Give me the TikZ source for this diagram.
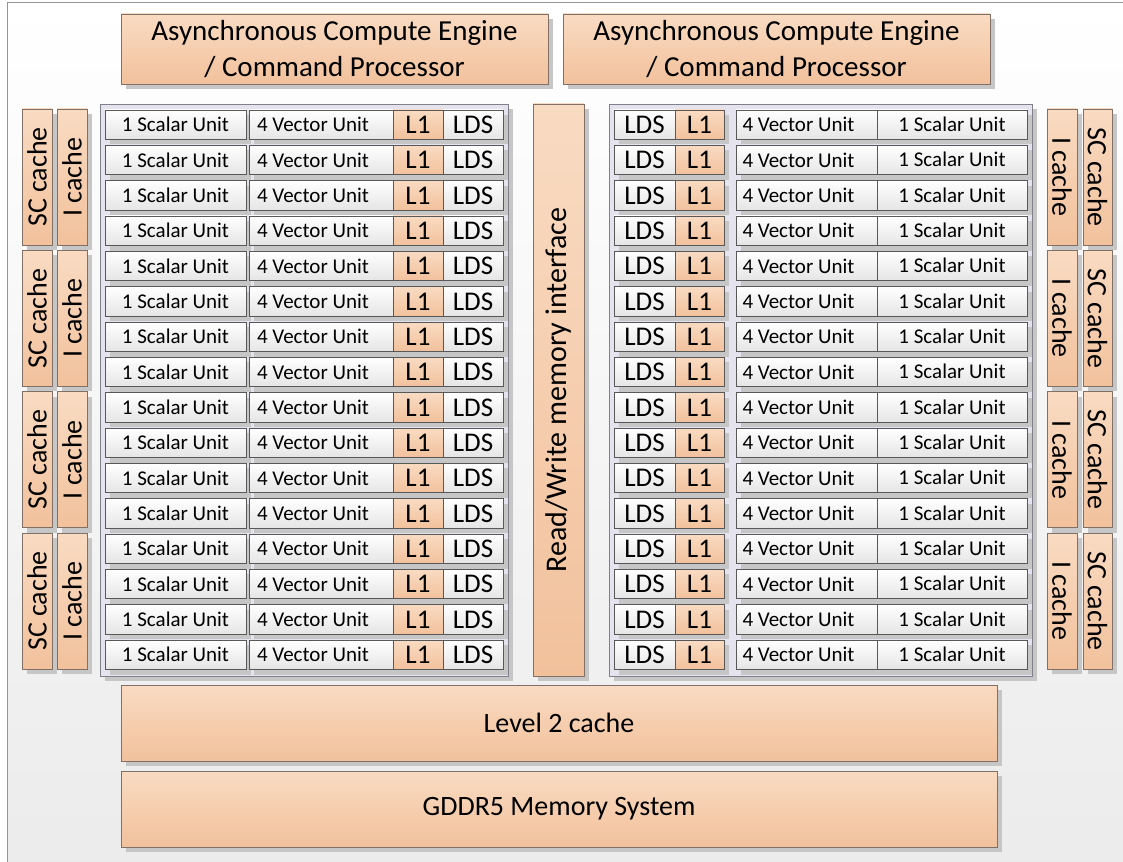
\documentclass[tikz,border=0pt]{standalone}
\usepackage{fontspec}
\setmainfont{Carlito}
\definecolor{orgtop}{RGB}{249,219,194}
\definecolor{orgbot}{RGB}{242,193,156}
\definecolor{orgline}{RGB}{128,112,102}
\definecolor{unitline}{RGB}{88,88,88}
\definecolor{unitbot}{RGB}{229,229,229}
\definecolor{shadowfill}{RGB}{198,198,198}
\definecolor{panelfill}{RGB}{229,227,238}
\definecolor{panelline}{RGB}{128,128,138}
\definecolor{bgbot}{RGB}{235,235,235}
\definecolor{frameline}{RGB}{150,150,150}
\tikzset{
  orangebox/.style={draw=orgline, top color=orgtop, bottom color=orgbot, line width=0.9pt, inner sep=0pt},
  unitbox/.style={draw=unitline, top color=white, bottom color=unitbot, line width=0.9pt, inner sep=0pt},
  l1box/.style={draw=unitline, top color=orgtop, bottom color=orgbot, line width=0.9pt, inner sep=0pt},
  panelbox/.style={draw=panelline, fill=panelfill, line width=0.9pt},
  bigtxt/.style={font=\fontsize{28}{36}\selectfont, align=center},
  acetxt/.style={font=\fontsize{29}{36}\selectfont, align=center},
  cachetxt/.style={font=\fontsize{28}{30}\selectfont},
  rwtxt/.style={font=\fontsize{30}{32}\selectfont},
  unittxt/.style={font=\fontsize{21}{24}\selectfont},
  ldstxt/.style={font=\fontsize{27}{30}\selectfont},
  vectxt/.style={font=\fontsize{21}{24}\selectfont},
}
% block: name, x1, y1, x2, y2, style, text  (drop shadow offset by 5)
\newcommand\blk[7]{%
  \fill[shadowfill] ({#2+5},{#3+5}) rectangle ({#4+5},{#5+5});
  \node[#6, minimum width={#4-#2}, minimum height={#5-#3}] (#1)
    at ({(#2+#4)/2},{(#3+#5)/2}) {#7};}
% upright block turned by an angle: name, x1, y1, x2, y2, style, text, angle
\newcommand\vblk[8]{%
  \fill[shadowfill] ({#2+5},{#3+5}) rectangle ({#4+5},{#5+5});
  \node[#6, rotate=#8, minimum width={#5-#3}, minimum height={#4-#2}] (#1)
    at ({(#2+#4)/2},{(#3+#5)/2}) {#7};}
% vector unit label: left aligned and sitting a little low
\newcommand\veclabel{\makebox[128pt][l]{\raisebox{-3pt}{4 Vector Unit}}}
\begin{document}
\begin{tikzpicture}[x=1pt, y=-1pt]
  \useasboundingbox (0,0) rectangle (1123,861);
  \clip (0,0) rectangle (1123,861);
  % background frame
  \shade[top color=white, bottom color=bgbot] (7,3) rectangle (1140,880);
  \draw[frameline, line width=1pt] (7,880) -- (7,3) -- (1140,3);

  % command processors
  \blk{ace1}{121}{14}{548}{84}{orangebox, acetxt}{Asynchronous Compute Engine\\/ Command Processor}
  \blk{ace2}{563}{14}{990}{84}{orangebox, acetxt}{Asynchronous Compute Engine\\/ Command Processor}

  % compute unit arrays
  \blk{lpanel}{100}{104}{508}{676}{panelbox}{}
  \blk{rpanel}{609}{104}{1032}{676}{panelbox}{}

  % read/write memory interface
  \vblk{rw}{533}{104}{584}{676}{orangebox, rwtxt}{Read/Write memory interface}{90}

  % compute unit rows
  \foreach \i in {0,...,15}{
    \pgfmathsetmacro\t{110+35.333*\i}
    \pgfmathsetmacro\b{\t+29.5}
    \blk{ls\i}{105}{\t}{246}{\b}{unitbox, unittxt}{1 Scalar Unit}
    \blk{lv\i}{249}{\t}{393}{\b}{unitbox, vectxt}{\veclabel}
    \blk{ll\i}{393}{\t}{443}{\b}{l1box, ldstxt}{L1}
    \blk{ld\i}{443}{\t}{503}{\b}{unitbox, ldstxt}{LDS}
    \blk{rd\i}{614}{\t}{675}{\b}{unitbox, ldstxt}{LDS}
    \blk{rl\i}{675}{\t}{724}{\b}{l1box, ldstxt}{L1}
    \blk{rv\i}{736}{\t}{877}{\b}{unitbox, vectxt}{\veclabel}
    \blk{rs\i}{877}{\t}{1027}{\b}{unitbox, unittxt}{\raisebox{1pt}{1 Scalar Unit}}
  }

  % instruction and scalar caches, one pair per four rows
  \foreach \g in {0,...,3}{
    \pgfmathsetmacro\t{109+141.333*\g}
    \pgfmathsetmacro\b{\t+136}
    \vblk{lsc\g}{22}{\t}{52}{\b}{orangebox, cachetxt}{SC cache}{90}
    \vblk{lic\g}{57}{\t}{87}{\b}{orangebox, cachetxt}{I cache}{90}
    \vblk{ric\g}{1047}{\t}{1077}{\b}{orangebox, cachetxt}{I cache}{-90}
    \vblk{rsc\g}{1083}{\t}{1112}{\b}{orangebox, cachetxt}{SC cache}{-90}
  }

  % shared cache and memory
  \blk{l2}{121}{685}{997}{761}{orangebox, bigtxt}{Level 2 cache}
  \blk{mem}{121}{771}{997}{847}{orangebox, bigtxt}{GDDR5 Memory System}
\end{tikzpicture}
\end{document}
